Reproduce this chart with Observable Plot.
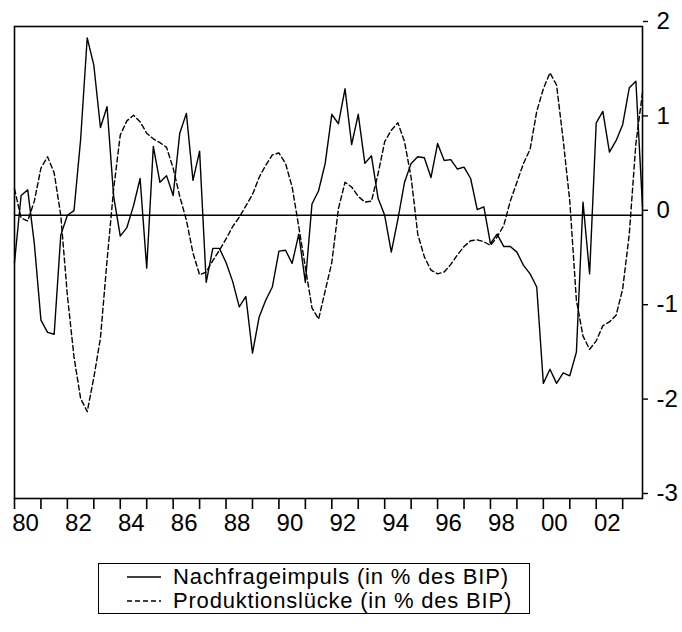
<!DOCTYPE html>
<html><head><meta charset="utf-8">
<script src="https://cdn.jsdelivr.net/npm/d3@7"></script>
<script src="https://cdn.jsdelivr.net/npm/@observablehq/plot@0.6"></script>
<style>
body{margin:0;background:#fff;font-family:"Liberation Sans",Arial,sans-serif;}
#wrap{position:relative;width:682px;height:632px;overflow:hidden;}
#legend{position:absolute;left:98px;top:563px;width:432px;height:51px;border:1.5px solid #000;box-sizing:border-box;font-size:22px;letter-spacing:0.8px;padding-top:1px;}
.row{display:flex;align-items:center;height:24px;line-height:24px;white-space:nowrap;}
.row svg{margin-left:28px;margin-right:12px;}
</style></head><body><div id="wrap"><div id="chart"></div><div id="legend"></div></div>
<script>
// Quarterly data, 1980Q1 - 2003Q4
const startYear = 1980;
const nachfrageimpuls = [
 -0.50, 0.21, 0.27, -0.30, -1.11, -1.24, -1.26, -0.21, 0.00, 0.05,
  0.80, 1.88, 1.59, 0.93, 1.15, 0.20, -0.22, -0.13, 0.10, 0.39,
 -0.56, 0.73, 0.35, 0.42, 0.21, 0.87, 1.08, 0.37, 0.68, -0.71,
 -0.35, -0.35, -0.50, -0.70, -0.97, -0.86, -1.46, -1.08, -0.90, -0.76,
 -0.38, -0.37, -0.51, -0.20, -0.71, 0.12, 0.26, 0.55, 1.07, 0.97,
  1.34, 0.75, 1.07, 0.55, 0.63, 0.18, 0.00, -0.39, -0.04, 0.35,
  0.55, 0.62, 0.61, 0.40, 0.76, 0.58, 0.59, 0.49, 0.51, 0.39,
  0.06, 0.09, -0.30, -0.20, -0.33, -0.33, -0.39, -0.53, -0.62, -0.76,
 -1.78, -1.63, -1.78, -1.67, -1.70, -1.45, 0.14, -0.62, 0.98, 1.10,
  0.67, 0.79, 0.96, 1.35, 1.42, 0.09
];
const produktionsluecke = [
  0.28, -0.03, -0.06, 0.15, 0.50, 0.62, 0.45, 0.00, -0.85, -1.50,
 -1.94, -2.08, -1.72, -1.30, -0.48, 0.28, 0.85, 1.00, 1.06, 0.99,
  0.87, 0.81, 0.77, 0.72, 0.50, 0.20, -0.05, -0.40, -0.63, -0.60,
 -0.48, -0.37, -0.25, -0.12, -0.02, 0.10, 0.22, 0.40, 0.53, 0.64,
  0.66, 0.55, 0.30, -0.12, -0.55, -0.98, -1.10, -0.80, -0.50, 0.07,
  0.35, 0.30, 0.20, 0.14, 0.15, 0.44, 0.78, 0.90, 0.98, 0.78,
  0.40, -0.20, -0.44, -0.58, -0.62, -0.60, -0.52, -0.42, -0.33, -0.27,
 -0.26, -0.28, -0.32, -0.23, -0.11, 0.15, 0.35, 0.55, 0.70, 1.10,
  1.34, 1.51, 1.38, 0.80, 0.15, -0.90, -1.28, -1.42, -1.33, -1.17,
 -1.13, -1.06, -0.78, -0.20, 0.76, 1.30
];
const seriesNames = ["Nachfrageimpuls (in % des BIP)", "Produktionslücke (in % des BIP)"];
const yTicks = [2, 1, 0, -1, -2, -3];
const yearTicks = d3.range(1980, 2004);
const labelYears = yearTicks.filter(y => y % 2 === 0);

const toRows = arr => arr.map((v, i) => ({t: startYear + i / 4, v}));
const rowsA = toRows(nachfrageimpuls);
const rowsB = toRows(produktionsluecke);

const font = "Liberation Sans, Arial, sans-serif";
const chart = Plot.plot({
  width: 682, height: 545,
  marginLeft: 14, marginRight: 40, marginTop: 26, marginBottom: 47,
  x: {domain: [startYear, startYear + (nachfrageimpuls.length - 1) / 4]},
  y: {domain: [-3, 2]},
  style: {fontFamily: font, fontSize: "24px", color: "black", background: "white"},
  marks: [
    Plot.ruleY([0], {stroke: "black", strokeWidth: 1.6}),
    Plot.line(rowsB, {x: "t", y: "v", stroke: "black", strokeWidth: 1.4, strokeDasharray: "5,3"}),
    Plot.line(rowsA, {x: "t", y: "v", stroke: "black", strokeWidth: 1.4}),
    Plot.frame({stroke: "black", strokeWidth: 1.6}),
    Plot.axisY({anchor: "right", ticks: yTicks, tickSize: 5, tickPadding: 9, dy: -5,
      tickFormat: d => String(d), label: null, fontSize: 24, strokeWidth: 1.4}),
    Plot.axisX({ticks: yearTicks, tickSize: 11, tickFormat: () => "", label: null, strokeWidth: 1.6}),
    Plot.axisX({ticks: labelYears, tickSize: 0, tickPadding: 15, dx: 11,
      tickFormat: d => String(d).slice(2), label: null, fontSize: 24})
  ]
});
document.getElementById("chart").appendChild(chart);

// legend
const legend = document.getElementById("legend");
seriesNames.forEach((name, k) => {
  const row = document.createElement("div");
  row.className = "row";
  row.innerHTML = `<svg width="34" height="10"><line x1="0" x2="34" y1="5" y2="5" stroke="black" stroke-width="1.4" ${k === 1 ? 'stroke-dasharray="5,3"' : ''}/></svg><span>${name}</span>`;
  legend.appendChild(row);
});
</script>
</body></html>
